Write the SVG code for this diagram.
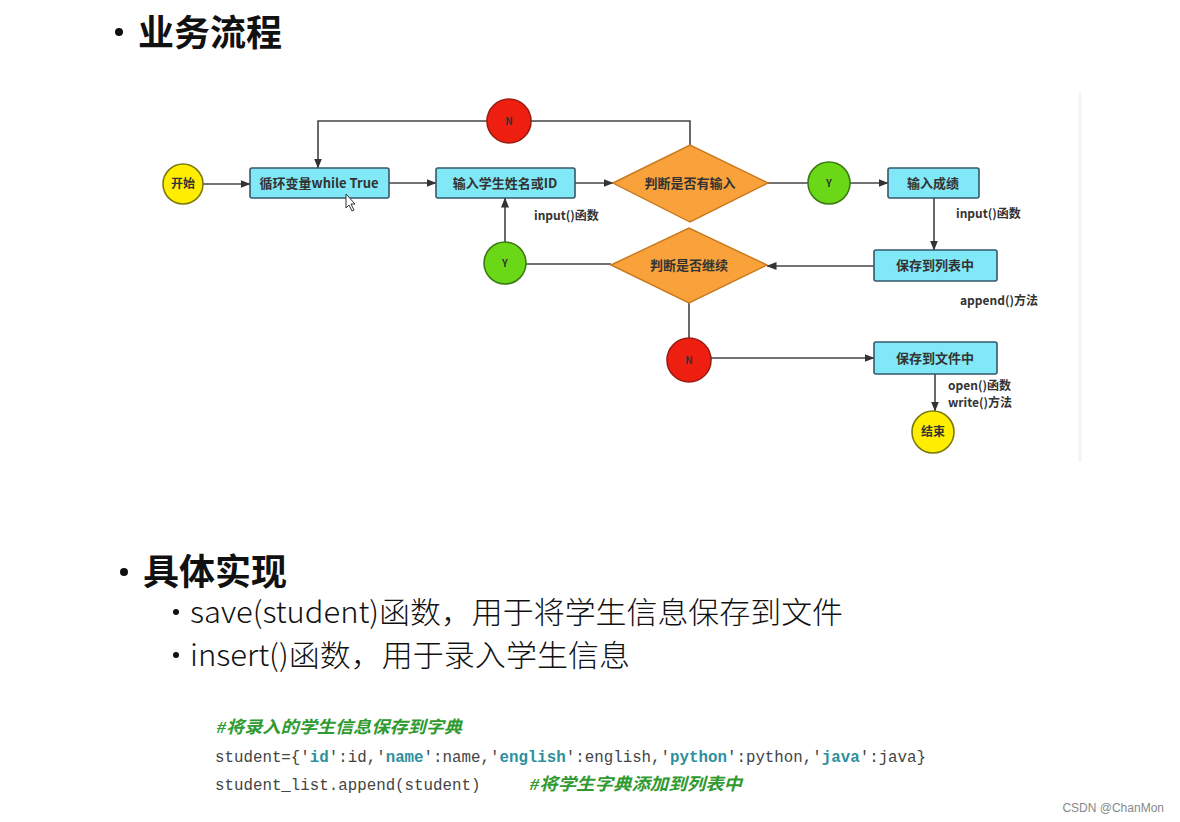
<svg xmlns="http://www.w3.org/2000/svg" width="1180" height="822" viewBox="0 0 1180 822">
<style>
.head{font-family:"Noto Sans CJK SC","Noto Sans",sans-serif;font-weight:700;font-size:36px;fill:#111}
.sub{font-family:"Noto Sans CJK SC","Noto Sans",sans-serif;font-weight:300;font-size:30px;fill:#111}
.box{fill:#80e8f6;stroke:#35586a;stroke-width:1.6}
.dia{fill:#f9a23c;stroke:#c8781c;stroke-width:1.4}
.yel{fill:#ffee00;stroke:#7a7a10;stroke-width:1.6}
.grn{fill:#6ad817;stroke:#3c7a14;stroke-width:1.6}
.red{fill:#ee1f10;stroke:#9a1d12;stroke-width:1.6}
.lbl{font-family:"Noto Sans CJK SC","Noto Sans",sans-serif;font-weight:700;font-size:13px;fill:#333;text-anchor:middle}
.sm{font-family:"Noto Sans CJK SC","Noto Sans",sans-serif;font-weight:700;font-size:10px;fill:#333;text-anchor:middle}
.ann{font-family:"Noto Sans CJK SC","Noto Sans",sans-serif;font-weight:700;font-size:12px;fill:#333}
.conn{fill:none;stroke:#444;stroke-width:1.6}
.code{font-family:"Liberation Mono","Noto Sans CJK SC",monospace;font-size:15.8px;fill:#444}
.key{fill:#2e8f9e;font-weight:700}
.cmt{font-family:"Liberation Serif","Noto Sans CJK SC",serif;font-style:italic;font-weight:700;font-size:17px;fill:#2f9a2f}
</style>
<defs>
<marker id="arr" markerWidth="10" markerHeight="8" refX="9.5" refY="4" orient="auto" markerUnits="userSpaceOnUse">
<path d="M0,0 L10,4 L0,8 Z" fill="#333"/>
</marker>
</defs>
<rect width="1180" height="822" fill="#ffffff"/>
<line x1="1080" y1="92" x2="1080" y2="462" stroke="#f4f4f4" stroke-width="3"/>

<g id="heading1">
<circle cx="119" cy="32" r="4" fill="#111"/>
<text class="head" x="138" y="46">业务流程</text>
</g>

<g id="connectors">
<path class="conn" d="M203,184 H250" marker-end="url(#arr)"/>
<path class="conn" d="M389,183 H436" marker-end="url(#arr)"/>
<path class="conn" d="M575,183 H613" marker-end="url(#arr)"/>
<path class="conn" d="M690,145 V121 H318 V168" marker-end="url(#arr)"/>
<path class="conn" d="M768,183 H888" marker-end="url(#arr)"/>
<path class="conn" d="M934,198 V250" marker-end="url(#arr)"/>
<path class="conn" d="M874,266 H767" marker-end="url(#arr)"/>
<path class="conn" d="M611,264 H505 V198" marker-end="url(#arr)"/>
<path class="conn" d="M689,303 V358 H874" marker-end="url(#arr)"/>
<path class="conn" d="M935,374 V411" marker-end="url(#arr)"/>
</g>

<g id="start"><circle class="yel" cx="183" cy="184" r="20"/><text class="lbl" style="font-size:12px" x="183" y="188">开始</text></g>
<g id="loop"><rect class="box" x="250" y="168" width="139" height="30" rx="2"/><text class="lbl" x="319" y="188">循环变量while True</text></g>
<g id="input-id"><rect class="box" x="436" y="168" width="139" height="30" rx="2"/><text class="lbl" x="505" y="188">输入学生姓名或ID</text></g>
<g id="check-input"><polygon class="dia" points="613,183 690,145 768,183 690,222"/><text class="lbl" x="690" y="188">判断是否有输入</text></g>
<g id="n-top"><circle class="red" cx="509" cy="121" r="22"/><text class="sm" x="509" y="125">N</text></g>
<g id="y-right"><circle class="grn" cx="829" cy="183" r="21"/><text class="sm" x="829" y="187">Y</text></g>
<g id="input-score"><rect class="box" x="888" y="168" width="91" height="30" rx="2"/><text class="lbl" x="933" y="188">输入成绩</text></g>
<g id="save-list"><rect class="box" x="874" y="250" width="123" height="31" rx="2"/><text class="lbl" x="935" y="270">保存到列表中</text></g>
<g id="check-continue"><polygon class="dia" points="611,265 689,228 767,265 689,303"/><text class="lbl" x="689" y="270">判断是否继续</text></g>
<g id="y-left"><circle class="grn" cx="505" cy="263" r="21"/><text class="sm" x="505" y="267">Y</text></g>
<g id="n-bottom"><circle class="red" cx="689" cy="360" r="22"/><text class="sm" x="689" y="364">N</text></g>
<g id="save-file"><rect class="box" x="874" y="342" width="123" height="32" rx="2"/><text class="lbl" x="935" y="363">保存到文件中</text></g>
<g id="end"><circle class="yel" cx="933" cy="432" r="21"/><text class="lbl" style="font-size:12px" x="933" y="436">结束</text></g>

<g id="annotations">
<text class="ann" x="534" y="220">input()函数</text>
<text class="ann" x="956" y="218">input()函数</text>
<text class="ann" x="960" y="305">append()方法</text>
<text class="ann" x="948" y="390">open()函数</text>
<text class="ann" x="948" y="407">write()方法</text>
</g>

<g id="cursor"><path d="M346,194 L346,208 L349,205 L352,211 L354,210 L351,204 L355,204 Z" fill="#fff" stroke="#333" stroke-width="1"/></g>

<g id="heading2">
<circle cx="124" cy="572" r="4" fill="#111"/>
<text class="head" x="143" y="585">具体实现</text>
</g>
<g id="bullets">
<circle cx="176" cy="612" r="3" fill="#111"/>
<text class="sub" x="190" y="623" textLength="653" lengthAdjust="spacingAndGlyphs">save(student)函数，用于将学生信息保存到文件</text>
<circle cx="176" cy="655" r="3" fill="#111"/>
<text class="sub" x="190" y="666" textLength="440" lengthAdjust="spacingAndGlyphs">insert()函数，用于录入学生信息</text>
</g>

<g id="code">
<text class="cmt" x="217" y="733" textLength="245" lengthAdjust="spacingAndGlyphs">#将录入的学生信息保存到字典</text>
<text class="code" x="215" y="762">student={'<tspan class="key">id</tspan>':id,'<tspan class="key">name</tspan>':name,'<tspan class="key">english</tspan>':english,'<tspan class="key">python</tspan>':python,'<tspan class="key">java</tspan>':java}</text>
<text class="code" x="215" y="790">student_list.append(student)</text>
<text class="cmt" x="530" y="790" textLength="212" lengthAdjust="spacingAndGlyphs">#将学生字典添加到列表中</text>
</g>

<text x="1164" y="812" text-anchor="end" style="font-family:'Liberation Sans',sans-serif;font-size:12px;fill:#888">CSDN @ChanMon</text>
</svg>
